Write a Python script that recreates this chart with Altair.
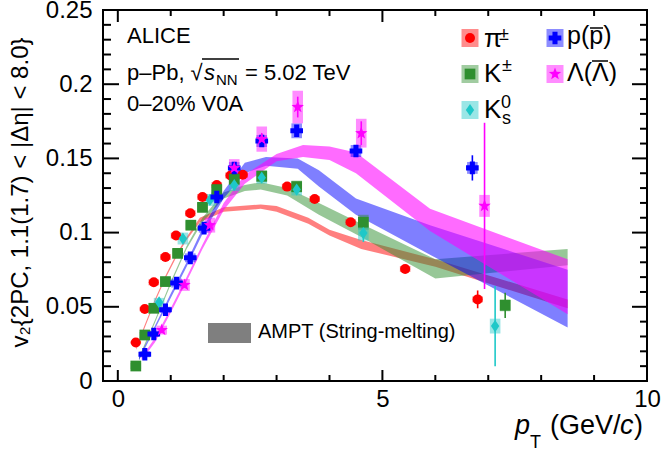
import math
import altair as alt
import pandas as pd

FONT = "Liberation Sans"
W, H = 544, 371

# ---------------- data ----------------
species = ["pi", "K", "K0s", "p", "Lambda"]
colors = ["#ff0000", "#2f8f2f", "#1ec8c8", "#0000ff", "#ff00ff"]

diamond = "M0,-1L0.68,0L0,1L-0.68,0Z"
star_pts = []
for k in range(10):
    a = -math.pi / 2 + k * math.pi / 5
    r = 1.0 if k % 2 == 0 else 0.42
    star_pts.append(f"{r * math.cos(a):.3f},{r * math.sin(a):.3f}")
star = "M" + "L".join(star_pts) + "Z"
shapes = ["circle", "square", diamond, "cross", star]
msizes = [100, 115, 150, 160, 170]

pi_pt = [0.34, 0.51, 0.68, 0.90, 1.10, 1.37, 1.60, 1.87, 2.13, 2.36, 3.20, 3.72, 4.40, 5.43, 6.80]
pi_v2 = [0.026, 0.0485, 0.0665, 0.0835, 0.098, 0.113, 0.124, 0.132, 0.1385, 0.139, 0.131, 0.1226, 0.107, 0.0755, 0.055]
pi_stat = [0.0004, 0.0004, 0.0004, 0.0004, 0.0004, 0.0005, 0.0005, 0.0005, 0.0006, 0.0006, 0.0008, 0.001, 0.0015, 0.002, 0.006]
pi_sys = [0.001, 0.0015, 0.002, 0.002, 0.002, 0.002, 0.002, 0.002, 0.002, 0.002, 0.002, 0.002, 0.002, 0.002, 0.002]

K_pt = [0.34, 0.51, 0.68, 0.90, 1.13, 1.38, 1.60, 1.87, 2.20, 2.72, 3.38, 4.64, 7.32]
K_v2 = [0.0101, 0.031, 0.049, 0.067, 0.086, 0.105, 0.117, 0.129, 0.136, 0.138, 0.131, 0.107, 0.051]
K_stat = [0.0005, 0.0005, 0.0005, 0.0005, 0.0005, 0.0006, 0.0006, 0.0007, 0.0008, 0.001, 0.0015, 0.003, 0.0085]
K_sys = [0.002, 0.002, 0.002, 0.003, 0.003, 0.003, 0.003, 0.003, 0.004, 0.004, 0.004, 0.005, 0.004]

K0s_pt = [0.78, 1.23, 1.74, 2.20, 2.72, 3.38, 4.64, 7.13]
K0s_v2 = [0.053, 0.096, 0.122, 0.132, 0.137, 0.129, 0.0997, 0.037]
K0s_stat = [0.001, 0.001, 0.001, 0.001, 0.0015, 0.002, 0.006, 0.027]
K0s_sys = [0.003, 0.004, 0.004, 0.004, 0.004, 0.004, 0.005, 0.005]

p_pt = [0.51, 0.68, 0.90, 1.11, 1.37, 1.63, 1.87, 2.20, 2.72, 3.38, 4.50, 6.70]
p_v2 = [0.018, 0.0317, 0.048, 0.066, 0.083, 0.103, 0.124, 0.1435, 0.1617, 0.1686, 0.155, 0.1436]
p_stat = [0.0006, 0.0006, 0.0006, 0.0006, 0.0007, 0.0008, 0.001, 0.0012, 0.0015, 0.002, 0.002, 0.0085]
p_sys = [0.002, 0.002, 0.002, 0.003, 0.003, 0.003, 0.003, 0.004, 0.004, 0.005, 0.004, 0.004]

L_pt = [0.83, 1.26, 1.74, 2.20, 2.72, 3.40, 4.60, 6.93]
L_v2 = [0.0343, 0.0647, 0.105, 0.1435, 0.163, 0.1846, 0.167, 0.118]
L_stat = [0.002, 0.002, 0.002, 0.004, 0.004, 0.007, 0.008, 0.056]
L_sys = [0.003, 0.004, 0.005, 0.006, 0.0085, 0.011, 0.0097, 0.0074]

# AMPT (string melting) bands
pi_band_pt = [0.35, 0.5, 0.7, 0.9, 1.1, 1.3, 1.55, 2.0, 2.7, 3.0, 3.6, 4.0, 4.6, 6.0, 8.5]
pi_band_lo = [0.021, 0.035, 0.053, 0.069, 0.083, 0.095, 0.107, 0.114, 0.116, 0.114, 0.106, 0.098, 0.089, 0.077, 0.049]
pi_band_hi = [0.023, 0.037, 0.055, 0.071, 0.085, 0.097, 0.110, 0.117, 0.119, 0.118, 0.110, 0.102, 0.095, 0.082, 0.055]

K_band_pt = [0.4, 0.7, 1.0, 1.3, 1.6, 2.0, 2.4, 2.7, 3.2, 3.8, 4.6, 6.0, 8.5]
K_band_lo = [0.014, 0.039, 0.065, 0.089, 0.107, 0.123, 0.128, 0.129, 0.125, 0.112, 0.097, 0.069, 0.078]
K_band_hi = [0.016, 0.041, 0.067, 0.091, 0.110, 0.127, 0.132, 0.134, 0.130, 0.120, 0.106, 0.082, 0.089]

p_band_pt = [0.4, 0.7, 1.0, 1.3, 1.6, 2.0, 2.4, 2.8, 3.4, 3.8, 4.5, 5.9, 8.5]
p_band_lo = [0.014, 0.035, 0.056, 0.077, 0.099, 0.123, 0.140, 0.145, 0.143, 0.131, 0.112, 0.085, 0.036]
p_band_hi = [0.016, 0.037, 0.059, 0.080, 0.103, 0.128, 0.147, 0.151, 0.150, 0.142, 0.123, 0.105, 0.075]

L_band_pt = [0.45, 0.7, 1.0, 1.3, 1.6, 2.0, 2.4, 3.0, 3.5, 4.0, 4.5, 5.9, 8.5]
L_band_lo = [0.014, 0.026, 0.046, 0.067, 0.089, 0.115, 0.133, 0.148, 0.151, 0.149, 0.140, 0.101, 0.045]
L_band_hi = [0.016, 0.029, 0.049, 0.070, 0.092, 0.120, 0.139, 0.153, 0.159, 0.158, 0.154, 0.116, 0.082]

x_major = [0, 5, 10]
x_minor = [1, 2, 3, 4, 6, 7, 8, 9]
y_major = [0, 0.05, 0.1, 0.15, 0.2, 0.25]
y_minor = [0.01, 0.02, 0.03, 0.04, 0.06, 0.07, 0.08, 0.09, 0.11, 0.12, 0.13, 0.14,
           0.16, 0.17, 0.18, 0.19, 0.21, 0.22, 0.23, 0.24]

y_title = "v\u2082{2PC, 1.1(1.7) < |\u0394\u03b7| < 8.0}"

# ---------------- tables ----------------
series = {
    "pi": (pi_pt, pi_v2, pi_stat, pi_sys),
    "K": (K_pt, K_v2, K_stat, K_sys),
    "K0s": (K0s_pt, K0s_v2, K0s_stat, K0s_sys),
    "p": (p_pt, p_v2, p_stat, p_sys),
    "Lambda": (L_pt, L_v2, L_stat, L_sys),
}
bands = {
    "pi": (pi_band_pt, pi_band_lo, pi_band_hi),
    "K": (K_band_pt, K_band_lo, K_band_hi),
    "p": (p_band_pt, p_band_lo, p_band_hi),
    "Lambda": (L_band_pt, L_band_lo, L_band_hi),
}
band_opacity = {"pi": 0.5, "K": 0.5, "p": 0.5, "Lambda": 0.58}

xs = alt.Scale(domain=[-0.28, 10], nice=False, zero=False)
ys = alt.Scale(domain=[0, 0.25], nice=False, zero=False)

lab = dict(ticks=False, tickSize=0, domain=False, grid=False, labelFont=FONT,
           labelFontSize=24, labelColor="black", labelFlush=False, labelOverlap=False)
XA = alt.Axis(orient="bottom", values=x_major, labelPadding=6, title=None, format="d", **lab)
YA = alt.Axis(orient="left", values=y_major, labelPadding=11, title=y_title, format="~g",
              titleFont=FONT, titleFontSize=24, titleFontWeight="normal",
              titleColor="black", titleX=-71, titleY=182, titleAngle=270,
              titleAlign="center", titleBaseline="bottom", **lab)


def X(field):
    return alt.X(field, scale=xs, axis=XA)


def Y(field):
    return alt.Y(field, scale=ys, axis=YA)


layers = []
for sp, (bp, bl, bh) in bands.items():
    bdf = pd.DataFrame({"pt": bp, "lo": bl, "hi": bh})
    layers.append(
        alt.Chart(bdf).mark_area(color=colors[species.index(sp)], opacity=band_opacity[sp]).encode(
            x=X("pt:Q"), y=Y("lo:Q"), y2="hi:Q"))

for i, sp in enumerate(species):
    pt, v2, st, sy = series[sp]
    df = pd.DataFrame({"pt": pt, "v2": v2, "sys": sy})
    df["xlo"] = df.pt - 0.1
    df["xhi"] = df.pt + 0.1
    df["ylo"] = df.v2 - df.sys
    df["yhi"] = df.v2 + df.sys
    layers.append(alt.Chart(df).mark_rect(color=colors[i], opacity=0.45).encode(
        x=X("xlo:Q"), x2="xhi:Q", y=Y("ylo:Q"), y2="yhi:Q"))

for i, sp in enumerate(species):
    pt, v2, st, sy = series[sp]
    df = pd.DataFrame({"pt": pt, "v2": v2, "stat": st})
    df["slo"] = df.v2 - df.stat
    df["shi"] = df.v2 + df.stat
    layers.append(alt.Chart(df).mark_rule(color=colors[i], strokeWidth=1.6).encode(
        x=X("pt:Q"), y=Y("slo:Q"), y2="shi:Q"))

for i, sp in enumerate(species):
    pt, v2, st, sy = series[sp]
    df = pd.DataFrame({"pt": pt, "v2": v2})
    layers.append(alt.Chart(df).mark_point(filled=True, opacity=1, color=colors[i],
                                           shape=shapes[i], size=msizes[i]).encode(
        x=X("pt:Q"), y=Y("v2:Q")))


# ---------------- inward ticks on all four sides ----------------
def yticks(vals, x1, x2):
    return alt.Chart(pd.DataFrame({"v": vals})).mark_rule(color="black", strokeWidth=2).encode(
        y=Y("v:Q"), x=alt.value(x1), x2=alt.value(x2))


def xticks(vals, y1, y2):
    return alt.Chart(pd.DataFrame({"v": vals})).mark_rule(color="black", strokeWidth=2).encode(
        x=X("v:Q"), y=alt.value(y1), y2=alt.value(y2))


layers += [
    yticks(y_major, 0, 16), yticks(y_minor, 0, 8),
    yticks(y_major, W, W - 15), yticks(y_minor, W, W - 7),
    xticks(x_major, H, H - 11), xticks(x_minor, H, H - 6),
    xticks(x_major, 0, 12), xticks(x_minor, 0, 6),
]


# ---------------- annotations ----------------
def text(s, x, y, size, style="normal", align="left", baseline="alphabetic"):
    return alt.Chart(pd.DataFrame({"t": [s]})).mark_text(
        font=FONT, fontSize=size, fontStyle=style, align=align, baseline=baseline,
        color="black").encode(text="t:N", x=alt.value(x), y=alt.value(y))


def hline(x1, x2, y, w=1.5):
    return alt.Chart(pd.DataFrame({"t": [0]})).mark_rule(color="black", strokeWidth=w).encode(
        x=alt.value(x1), x2=alt.value(x2), y=alt.value(y))


# x-axis title
layers += [
    text("p", 412, 424, 27, "italic"),
    text("T", 427, 438, 18),
    text("(GeV/", 447, 424, 27),
    text("c", 517, 424, 27, "italic"),
    text(")", 531, 424, 27),
]

# ALICE block
layers += [
    text("ALICE", 24, 33, 22),
    text("p\u2013Pb, \u221a", 24, 70, 22),
    text("s", 101, 70, 22, "italic"),
    text("NN", 113, 75, 15),
    hline(99, 136, 49, 1.3),
    text("= 5.02 TeV", 142, 70, 22),
    text("0\u201320% V0A", 24, 101, 22),
]

# legend
leg_pos = [(367, 28), (367, 64), (367, 100), (452, 28), (452, 64)]
for i, (lx, ly) in enumerate(leg_pos):
    c = colors[i]
    layers.append(alt.Chart(pd.DataFrame({"t": [i]})).mark_rect(color=c, opacity=0.45).encode(
        x=alt.value(lx - 8.5), x2=alt.value(lx + 8.5), y=alt.value(ly - 9), y2=alt.value(ly + 9)))
    layers.append(alt.Chart(pd.DataFrame({"t": [i]})).mark_point(
        filled=True, opacity=1, color=c, shape=shapes[i], size=msizes[i]).encode(
        x=alt.value(lx), y=alt.value(ly)))

layers += [
    text("\u03c0", 381, 37, 26),
    text("\u00b1", 396, 30, 18),
    text("K", 381, 72, 26),
    text("\u00b1", 399, 61, 18),
    text("K", 381, 108, 26),
    text("0", 398, 98, 18),
    text("s", 399, 114, 18),
    text("p(p)", 464, 34, 25),
    hline(487, 500, 18, 1.5),
    text("\u039b(\u039b)", 464, 71, 25),
    hline(489, 505, 51, 1.5),
]

# AMPT legend
layers.append(alt.Chart(pd.DataFrame({"t": [0]})).mark_rect(color="#7f7f7f").encode(
    x=alt.value(105), x2=alt.value(148), y=alt.value(313), y2=alt.value(333)))
layers.append(text("AMPT (String-melting)", 155, 328, 20))

chart = alt.layer(*layers).properties(
    width=W, height=H,
    padding={"left": 103, "top": 10, "right": 15, "bottom": 70},
    autosize=alt.AutoSizeParams(type="none"),
).configure_view(stroke="black", strokeWidth=2)

chart.save("out.html", embed_options={"renderer": "svg", "actions": False})
